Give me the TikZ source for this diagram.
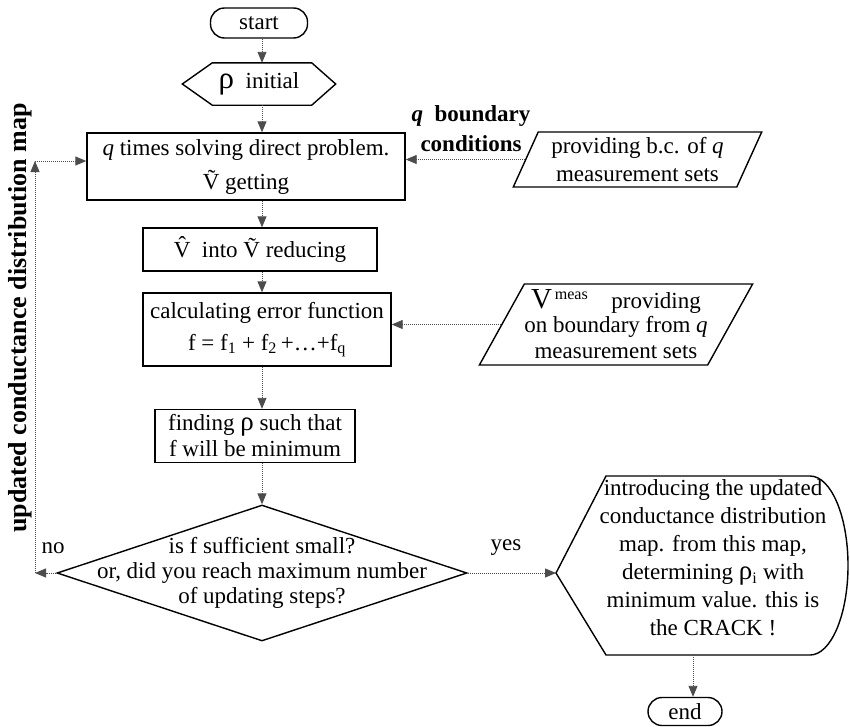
\documentclass[tikz,border=0pt]{standalone}
\usepackage{fontspec}
\setmainfont{Liberation Serif}
\usetikzlibrary{arrows.meta,shapes.geometric,calc}
\begin{document}
\begin{tikzpicture}[x=1pt,y=-1pt,
  every node/.style={font=\fontsize{23}{26}\selectfont, inner sep=0pt},
  shp/.style={draw=black, line width=1.4pt},
  box/.style={shp, align=center},
  term/.style={shp, rounded corners=14pt},
  para/.style={shp, trapezium, trapezium stretches=true, align=center},
  conn/.style={gray!60!black, line width=0.9pt, dash pattern=on 1.2pt off 0.8pt,
    -{Triangle[length=11pt,width=9pt]}},
  lab/.style={font=\fontsize{23}{30}\selectfont\bfseries, align=center}
  ]
\useasboundingbox (0,0) rectangle (850,726);
\coordinate (ax) at (262,0);
% nodes
\node[term, minimum width=97pt, minimum height=30pt] (start) at (259,23) {start};
\node[minimum width=153pt, minimum height=42pt] (init) at (259,84)
  {{\fontsize{31}{31}\selectfont ρ}\enspace initial};
\draw[shp] (init.west) -- ($(init.north west)+(30,0)$) -- ($(init.north east)+(-24,0)$)
  -- (init.east) -- ($(init.south east)+(-24,0)$) -- ($(init.south west)+(30,0)$) -- cycle;
\node[box, minimum width=318pt, minimum height=67pt] (qbox) at (246,166.5)
  {\textit{q} times solving direct problem.\\[8pt] \~{V} getting};
\node[para, trapezium left angle=64, trapezium right angle=116,
  minimum width=249pt, minimum height=55pt] (pb1) at (637.5,159.5)
  {providing b.c. of \textit{q}\\[2pt] measurement sets};
\node[lab] (qlab) at (471,129) {\textbf{\textit{q}}\enspace boundary\\ conditions};
\node[box, minimum width=234pt, minimum height=43pt] (red) at (260,249.5)
  {\^{V}\enspace into \~{V} reducing};
\node[box, minimum width=248pt, minimum height=73pt] (err) at (267,329.5)
  {calculating error function\\[6pt] f = f\textsubscript{1} + f\textsubscript{2}\,+…+f\textsubscript{q}};
\node[para, trapezium left angle=57, trapezium right angle=123,
  minimum width=264pt, minimum height=81pt] (pb2) at (616,324.5)
  {{\fontsize{29}{29}\selectfont V}\textsuperscript{\,meas}\quad providing\\[-2pt] on boundary from \textit{q}\\[0pt] measurement sets};
\node[box, minimum width=200pt, minimum height=53pt] (find) at (255,436)
  {finding {\fontsize{27}{27}\selectfont ρ} such that\\ f will be minimum};
\node[shp, diamond, minimum width=410pt, minimum height=136pt] (dec) at (262,573) {};
\node[align=center, font=\fontsize{23}{25}\selectfont] (dect) at (dec.center)
  {is f sufficient small?\\ or, did you reach maximum number\\ of updating steps?};
\node (no) at (53,548) {no};
\node (yes) at (506,548) {yes};
% display shape
\coordinate (dL) at (556,573);
\coordinate (dTL) at (606,476);
\coordinate (dTR) at (810,476);
\coordinate (dBR) at (810,655);
\coordinate (dBL) at (606,655);
\draw[shp] (dL) -- (dTL) -- (dTR) arc[start angle=-90, end angle=90, x radius=38, y radius=89.5]
  -- (dBL) -- cycle;
\node[align=center, font=\fontsize{23}{28}\selectfont] (disp) at (713,558)
  {introducing the updated\\ conductance distribution\\ map. from this map,\\
   determining {\fontsize{27}{27}\selectfont ρ}\textsubscript{i} with\\ minimum value. this is\\ the CRACK !};
\node[term, minimum width=74pt, minimum height=28pt] (end) at (685,711.5) {end};
\node[lab, font=\fontsize{26}{30}\selectfont\bfseries, rotate=90] (maplab) at (20,318)
  {updated conductance distribution map};
% connectors
\draw[conn] (start.south -| ax) -- (init.north -| ax);
\draw[conn] (init.south -| ax) -- (qbox.north -| ax);
\draw[conn] (qbox.south -| ax) -- (red.north -| ax);
\draw[conn] (red.south -| ax) -- (err.north -| ax);
\draw[conn] (err.south -| ax) -- (find.north -| ax);
\draw[conn] (find.south -| ax) -- (dec.north -| ax);
\draw[conn] (pb1.west) -- (pb1.west -| qbox.east);
\draw[conn] (pb2.west) -- (pb2.west -| err.east);
\coordinate (L1) at (35,573);
\coordinate (L2) at (35,161);
\draw[conn] (dec.west) -- (L1);
\draw[conn] (L1) -- (L2);
\draw[conn] (L2) -- (L2 -| qbox.west);
\draw[conn] (dec.east) -- (dL);
\coordinate (dB) at (693,655);
\draw[conn] (dB) -- (dB |- end.north);
\end{tikzpicture}
\end{document}
